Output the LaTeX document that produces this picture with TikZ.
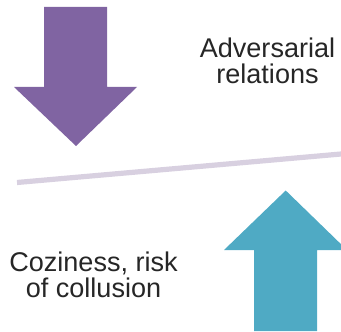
\documentclass[tikz,border=0pt]{standalone}
\usepackage{fontspec}
\setmainfont{Liberation Sans}
\usepackage{tikz}
\tikzset{every picture/.style={line width=0.75pt}}
\definecolor{advpurple}{RGB}{128,100,162}
\definecolor{cozyteal}{RGB}{79,170,196}
\definecolor{balanceline}{RGB}{216,208,224}
\tikzset{
  label text/.style={align=center, font=\fontsize{20.3}{19.5}\selectfont, text=black!85},
}
\begin{document}
\begin{tikzpicture}[x=0.75pt,y=0.75pt,yscale=-1,xscale=1]
		\useasboundingbox (0,0) rectangle (341,331);
		
		%Straight Lines [id:balance] 
		\coordinate (lineL) at (17,182.5);
		\coordinate (lineR) at (341,154);
		\draw [color=balanceline, line width=3.9pt]  (lineL) -- (lineR) ;
		
		%Down Arrow [id:adversarial] 
		\fill [advpurple] (44,7) -- (107,7) -- (107,87) -- (137,87) -- (76,146) -- (14,87) -- (44,87) -- cycle ;
		
		%Up Arrow [id:coziness] 
		\fill [cozyteal] (254,331) -- (317,331) -- (317,250) -- (347,250) -- (285.7,190.5) -- (224,250) -- (254,250) -- cycle ;
		
		% Text Node
		\node [label text] (adv) at (267.5,61) {Adversarial\\relations};
		% Text Node
		\node [label text] (coz) at (93.5,275) {Coziness, risk\\of collusion};
		
		\end{tikzpicture}
\end{document}
